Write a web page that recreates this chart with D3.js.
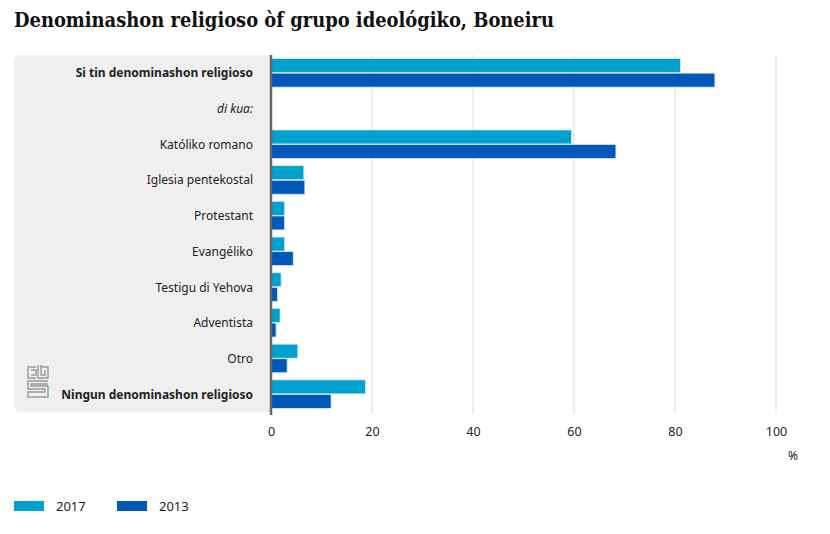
<!DOCTYPE html>
<html><head><meta charset="utf-8">
<script src="https://cdn.jsdelivr.net/npm/d3@7"></script>
<style>body{margin:0;background:#fff}svg{display:block}</style>
</head><body>
<svg id="c" width="830" height="534"></svg>
<script>
const categories = ["Si tin denominashon religioso","di kua:","Katóliko romano","Iglesia pentekostal","Protestant","Evangéliko","Testigu di Yehova","Adventista","Otro","Ningun denominashon religioso"];
const values2017 = [81.1, null, 59.5, 6.5, 2.7, 2.7, 2.0, 1.8, 5.3, 18.7];
const values2013 = [87.9, null, 68.3, 6.7, 2.7, 4.4, 1.3, 1.0, 3.2, 11.9];
const seriesNames = ["2017","2013"];
const seriesColors = ["#00a1cd","#0058b8"];
const xTicks = [0,20,40,60,80,100];

const svg = d3.select("#c");
const font = "'Noto Sans', sans-serif";
const L = 271, R = 776, T = 55, B = 412;
const x = d3.scaleLinear().domain([0,100]).range([L,R]);
const y = d3.scaleBand().domain(categories).range([T,B]).paddingInner(0.2).paddingOuter(0.1);
const ys = d3.scaleBand().domain(seriesNames).range([0,y.bandwidth()]).paddingInner(0.04);

svg.append("text").attr("x",14).attr("y",27).attr("font-family","'DejaVu Serif Condensed','DejaVu Serif',serif")
  .attr("font-weight","bold").attr("font-size",19.9).attr("fill","#111")
  .text("Denominashon religioso òf grupo ideológiko, Boneiru");

// grey panel with rounded left corners
const r=7;
svg.append("path").attr("fill","#efefef")
  .attr("d",`M${L},${T} L${14+r},${T} Q14,${T} 14,${T+r} L14,${B-r} Q14,${B} ${14+r},${B} L${L},${B} Z`);

// gridlines
svg.append("g").selectAll("line").data(xTicks.slice(1)).join("line")
  .attr("x1",d=>x(d)).attr("x2",d=>x(d)).attr("y1",T).attr("y2",B+2)
  .attr("stroke","#dcdcdc").attr("stroke-width",1);

// bars
const rows = categories.map((c,i)=>({c, v:[values2017[i],values2013[i]]}));
const g = svg.append("g");
rows.forEach(row=>{
  seriesNames.forEach((s,j)=>{
    if(row.v[j]==null) return;
    g.append("rect").attr("x",x(0)).attr("y",y(row.c)+ys(s))
      .attr("width",x(row.v[j])-x(0)).attr("height",ys.bandwidth())
      .attr("fill",seriesColors[j]).attr("stroke","#d6e8f5").attr("stroke-width",0.8);
  });
});

// axis line at 0
svg.append("line").attr("x1",x(0)).attr("x2",x(0)).attr("y1",T).attr("y2",B+3)
  .attr("stroke","#666").attr("stroke-width",2.5);

// category labels
svg.append("g").selectAll("text").data(categories).join("text")
  .attr("x",253).attr("y",d=>y(d)+y.bandwidth()/2+4.5)
  .attr("text-anchor","end").attr("font-family",font).attr("font-size",12).attr("fill","#222")
  .attr("font-weight",(d,i)=>(i===0||i===categories.length-1)?"bold":"normal")
  .attr("font-style",(d,i)=>i===1?"italic":"normal")
  .text(d=>d);

// x axis tick labels
const xa = svg.append("g").attr("transform",`translate(0,${B})`)
  .call(d3.axisBottom(x).tickValues(xTicks).tickSize(0).tickPadding(15));
xa.select(".domain").remove();
xa.selectAll("text").attr("font-family",font).attr("font-size",12.5).attr("fill","#222");
svg.append("text").attr("x",793).attr("y",460).attr("text-anchor","middle")
  .attr("font-family",font).attr("font-size",12).attr("fill","#222").text("%");

// legend
const lg = svg.append("g");
seriesNames.forEach((s,j)=>{
  const lx = 14 + j*103;
  lg.append("rect").attr("x",lx).attr("y",501).attr("width",30).attr("height",10).attr("fill",seriesColors[j]);
  lg.append("text").attr("x",lx+42).attr("y",511).attr("font-family",font).attr("font-size",13).attr("fill","#222").text(s);
});

// cbs logo
const logo = svg.append("g").attr("fill","none").attr("stroke","#9a9a9a").attr("stroke-width",1.4);
logo.append("path").attr("d","M36,367 L28,367 L28,378 L36,378 M31,370 L36,370 L36,375 L31,375");
logo.append("path").attr("d","M38,365 L38,378 L48,378 L48,367 L41,367 M41,365 L41,375 L45,375 L45,370");
logo.append("path").attr("d","M48,381 L28,381 L28,389 L45,389 L45,392 L28,392 L28,397 L48,397 L48,386 L31,386 L31,384 L48,384");
</script>
</body></html>
